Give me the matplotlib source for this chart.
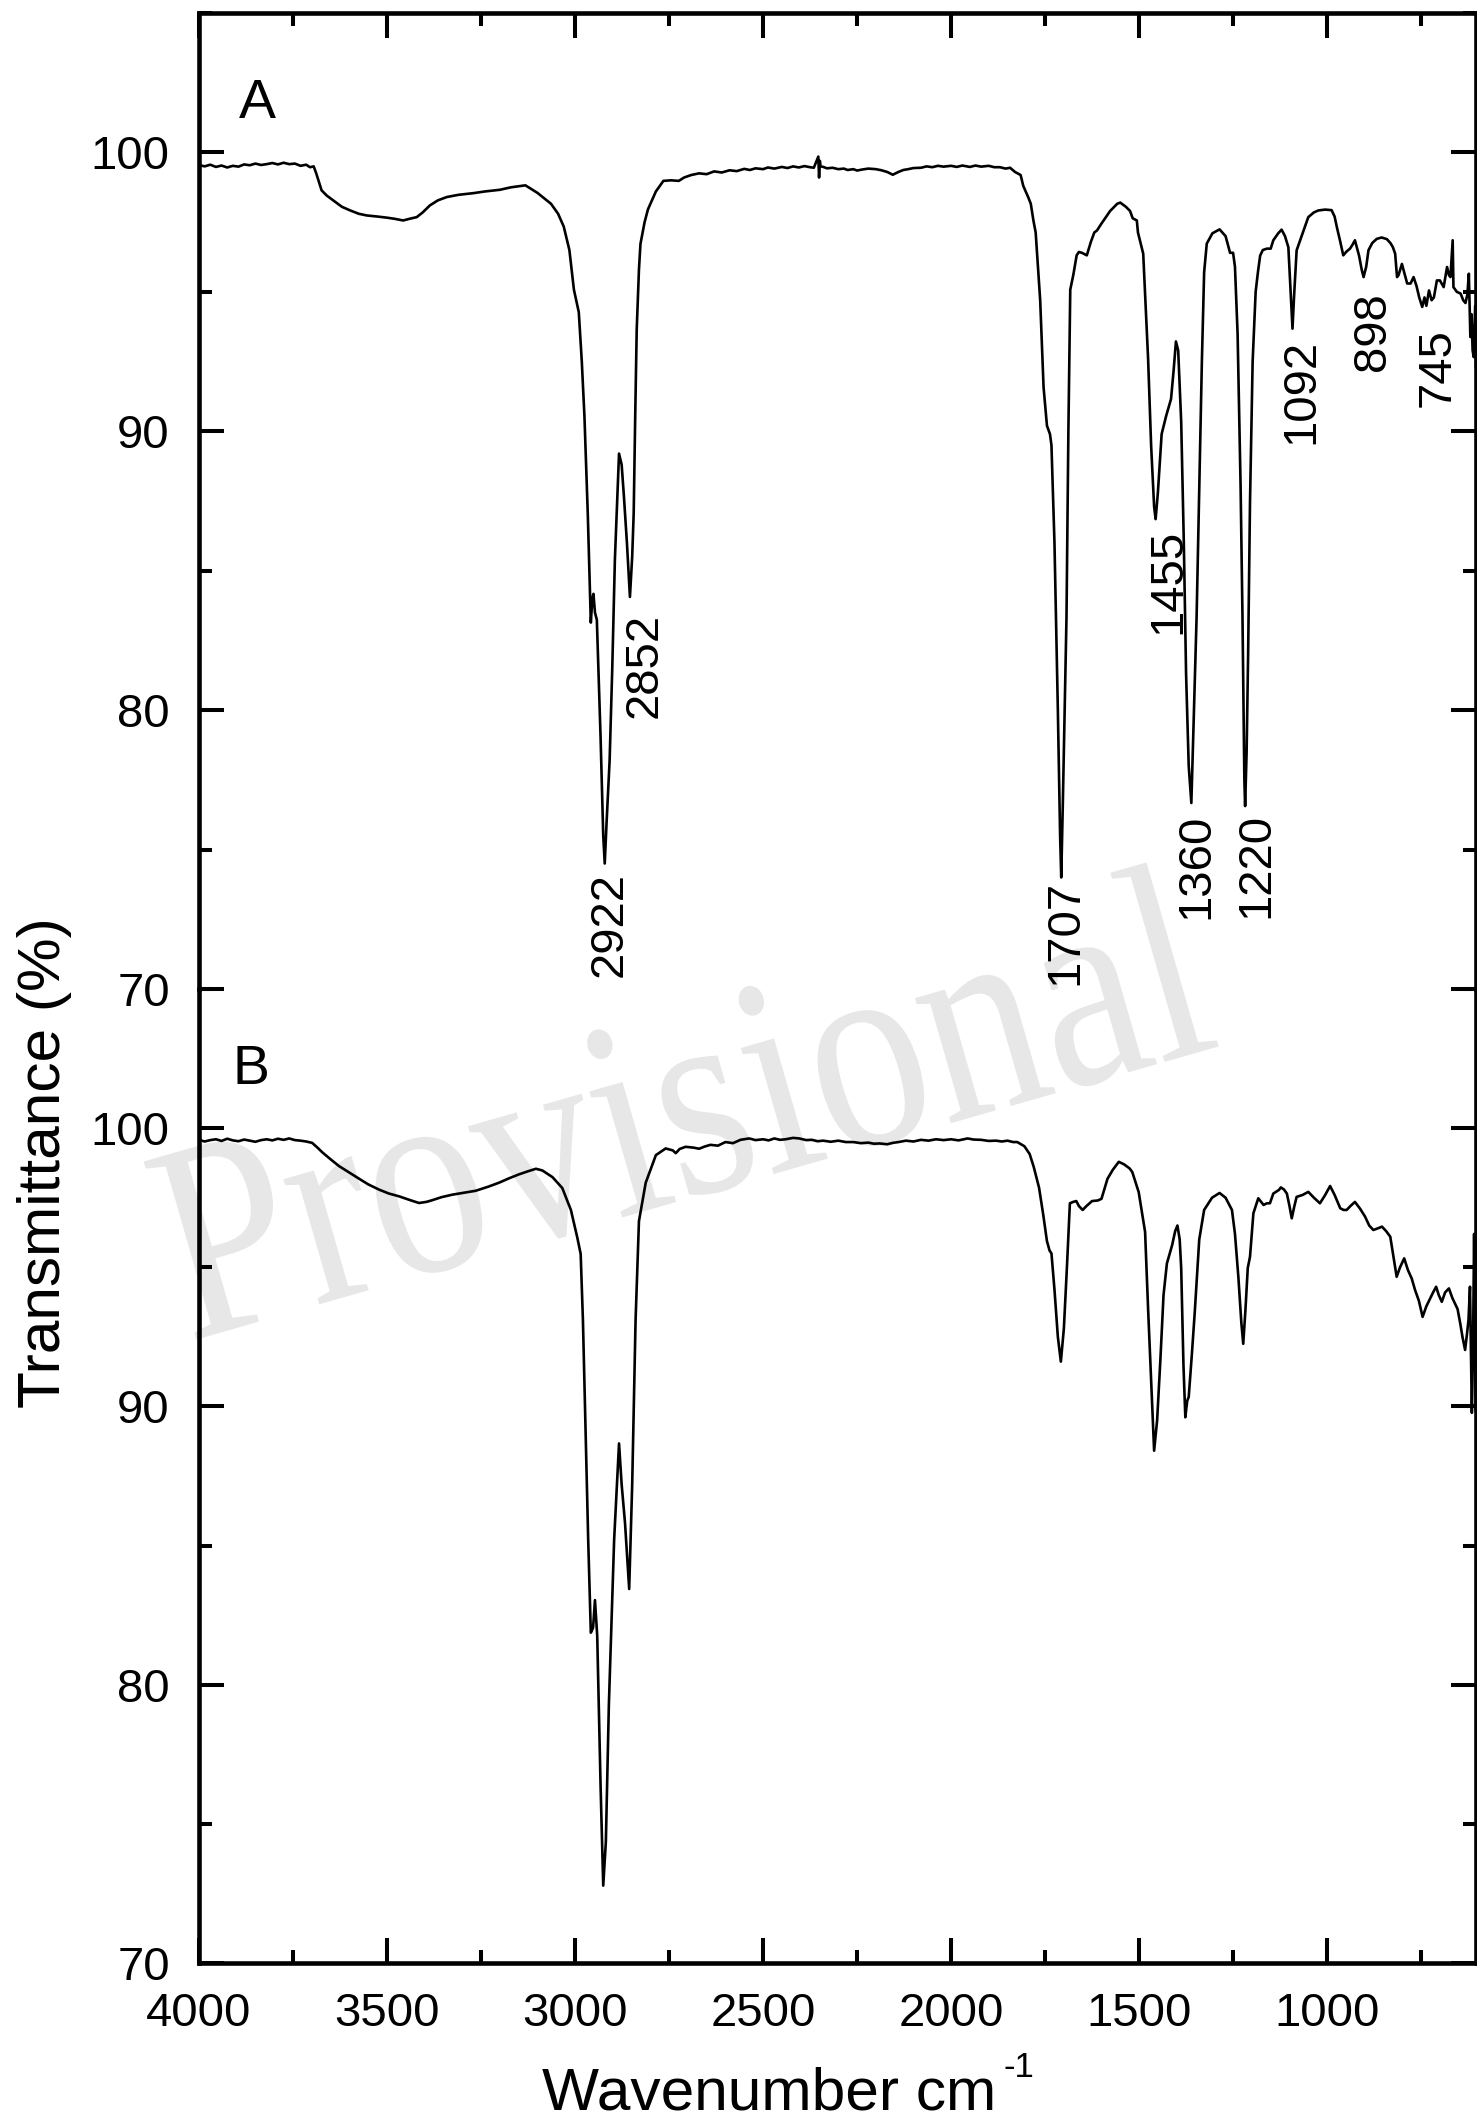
import matplotlib
matplotlib.use("Agg")
import matplotlib.pyplot as plt
from matplotlib.ticker import MultipleLocator
from matplotlib.textpath import TextPath
from matplotlib.font_manager import FontProperties
from matplotlib.patches import PathPatch
from matplotlib.transforms import Affine2D

plt.rcParams['font.family'] = ['Liberation Sans', 'DejaVu Sans']

# ---------------- data ----------------
wn_A = [4000, 3985, 3970, 3955, 3940, 3925, 3910, 3895, 3880, 3865, 3850, 3835, 3820, 3805,
        3790, 3775, 3760, 3745, 3730, 3715, 3705, 3695,
        3688, 3680, 3674, 3660, 3643, 3620, 3598, 3575, 3554, 3525, 3500, 3480, 3457, 3440,
        3421, 3405, 3386, 3365, 3341, 3310, 3270, 3240, 3200, 3170, 3132, 3100, 3064, 3045,
        3030, 3015, 3003, 2990, 2982, 2975, 2966, 2958, 2954, 2951, 2947, 2942, 2932, 2925,
        2921, 2916, 2908, 2901, 2894, 2888, 2883, 2876, 2870, 2862, 2854, 2848, 2844, 2840,
        2836, 2830, 2826, 2815, 2806, 2785, 2765, 2745, 2724, 2710,
        2691, 2670, 2650, 2630, 2610, 2589, 2570, 2550, 2535, 2520, 2500, 2487, 2470, 2450,
        2435, 2420, 2405, 2390, 2375, 2365, 2353, 2351, 2349, 2347, 2340, 2330, 2315, 2300,
        2285, 2275, 2260, 2250, 2235, 2220, 2200, 2185, 2170, 2155, 2140, 2127, 2114, 2100,
        2080, 2065, 2050, 2035, 2020, 2000, 1985, 1970, 1950, 1935, 1920, 1900, 1885, 1870,
        1855, 1843,
        1830, 1815, 1808, 1795, 1788, 1781, 1775, 1763, 1754, 1745, 1737, 1733, 1725, 1716,
        1710, 1707, 1703, 1698, 1693, 1688, 1683, 1675, 1666, 1660, 1652, 1639, 1628, 1619,
        1612, 1600, 1577, 1558, 1550, 1535, 1524, 1517, 1506, 1503, 1489, 1476, 1468, 1460,
        1456, 1450, 1440, 1428, 1415, 1408, 1402, 1396, 1388, 1381, 1375, 1368, 1361, 1355,
        1347, 1340, 1333, 1327, 1320, 1305, 1286, 1270, 1258, 1250, 1245, 1238, 1230, 1225,
        1220, 1218, 1214, 1210, 1205, 1198, 1190, 1184, 1178, 1171, 1160, 1150, 1143, 1130,
        1121, 1112, 1103, 1097, 1092, 1088, 1081, 1065, 1050, 1035, 1023, 1005, 988, 980,
        974, 965, 957, 948, 939, 932, 926, 915, 908, 903, 896, 890, 880, 868, 855, 841, 831,
        825, 819, 814, 810, 801, 793, 787, 778, 770, 762, 755, 747, 741, 736, 729, 722, 716,
        708, 700, 690, 681, 676, 672, 666, 664, 655, 645, 638, 632, 627, 623, 619, 616, 613,
        610, 608, 606, 604]
T_A = [99.55, 99.50, 99.56, 99.48, 99.53, 99.46, 99.52, 99.49, 99.57, 99.54, 99.60, 99.55,
       99.58, 99.62, 99.57, 99.63, 99.58, 99.60, 99.52, 99.56, 99.47, 99.50,
       99.24, 98.90, 98.64, 98.45, 98.28, 98.05, 97.92, 97.80, 97.74, 97.70,
       97.66, 97.62, 97.56, 97.62, 97.68, 97.85, 98.10, 98.28, 98.40, 98.48, 98.54, 98.60,
       98.66, 98.75, 98.82, 98.55, 98.16, 97.80, 97.34, 96.50, 95.08, 94.27, 92.50, 90.55,
       87.00, 83.14, 84.00, 84.17, 83.50, 83.24, 79.00, 75.50, 74.50, 76.00, 78.20, 81.50,
       85.40, 87.50, 89.20, 88.80, 87.67, 86.00, 84.06, 85.50, 87.06, 90.50, 93.63, 95.80,
       96.72, 97.50, 97.96, 98.60, 98.98, 99.00, 98.98, 99.10,
       99.19, 99.25, 99.22, 99.32, 99.28, 99.36, 99.33, 99.41, 99.37, 99.43, 99.40, 99.46,
       99.42, 99.48, 99.44, 99.50, 99.46, 99.51, 99.47, 99.45, 99.85, 99.10, 99.70, 99.50,
       99.48, 99.43, 99.45, 99.40, 99.42, 99.37, 99.40, 99.35, 99.39, 99.42, 99.40, 99.36,
       99.30, 99.20, 99.30, 99.37, 99.40, 99.44, 99.45, 99.50, 99.47, 99.52, 99.49, 99.52,
       99.48, 99.53, 99.48, 99.53, 99.49, 99.52, 99.47, 99.47, 99.42, 99.45,
       99.30, 99.19, 98.80, 98.40, 98.16, 97.56, 97.13, 94.70,
       91.58, 90.20, 89.90, 89.50, 86.00, 80.00, 75.50, 74.00, 76.50, 80.00, 83.35, 90.00,
       95.08, 95.60, 96.31, 96.43, 96.40, 96.31, 96.80, 97.13, 97.20, 97.45, 97.90, 98.16,
       98.20, 98.05, 97.90, 97.64, 97.56, 97.13, 96.37, 92.60, 89.50, 87.30, 86.85, 87.80,
       89.90, 90.55, 91.16, 92.20, 93.22, 92.90, 90.34, 86.00, 81.30, 78.00, 76.67, 79.50,
       83.35, 88.00, 92.50, 95.70, 96.73, 97.10, 97.24, 97.00, 96.40, 96.40, 95.90, 93.50,
       88.00, 83.35, 77.50, 76.56, 78.50, 82.00, 87.46, 92.50, 95.00, 95.70, 96.30, 96.50,
       96.55, 96.55, 96.85, 97.10, 97.23, 97.00, 96.60, 95.00, 93.68, 94.80, 96.49, 97.10,
       97.68, 97.85, 97.92, 97.95, 97.93, 97.70, 97.32, 96.80, 96.31, 96.45, 96.55, 96.70,
       96.85, 96.30, 95.80, 95.53, 95.90, 96.49, 96.75, 96.90, 96.95, 96.89, 96.74, 96.60,
       96.37, 95.53, 95.60, 96.00, 95.60, 95.30, 95.30, 95.53, 95.20, 94.80, 94.46, 94.80,
       94.50, 95.05, 94.70, 94.80, 95.41, 95.41, 95.17, 95.89, 95.60, 95.53, 96.85, 95.17,
       95.00, 94.94, 94.70, 94.60, 94.90, 95.65, 93.38, 94.20, 92.90, 92.66, 93.80, 94.50,
       92.30]

wn_B = [4000, 3985, 3970, 3955, 3940, 3925, 3910, 3895, 3880, 3865, 3850, 3835, 3820, 3805,
        3790, 3775, 3760, 3745, 3730, 3715, 3699,
        3685, 3672, 3650, 3628, 3600, 3574, 3550, 3521, 3495, 3468, 3440, 3415, 3395, 3380,
        3355, 3326, 3295, 3264, 3230, 3202, 3175, 3149, 3125, 3104, 3087, 3060, 3034, 3011,
        2994, 2985, 2979, 2972, 2965, 2958, 2952, 2947, 2941, 2932, 2925, 2918, 2910, 2896,
        2883, 2876, 2867, 2856, 2848, 2839, 2830, 2812, 2785, 2759, 2740, 2732, 2722, 2706,
        2685, 2670, 2655, 2640, 2620, 2600, 2580, 2560, 2537, 2520, 2500, 2485, 2470, 2455,
        2440, 2420, 2404, 2385, 2370, 2355, 2340, 2320, 2300, 2280, 2260, 2240, 2220, 2205,
        2190, 2170, 2155, 2140, 2120, 2100, 2080, 2060, 2040, 2020, 2000, 1980, 1956, 1940,
        1920, 1900, 1880, 1865, 1850, 1835, 1824,
        1805, 1791, 1780,
        1766, 1755, 1745, 1738, 1733, 1725, 1716, 1708, 1700, 1692, 1684, 1675, 1667, 1660,
        1650, 1640, 1625, 1610, 1600, 1584, 1570, 1554, 1540, 1525, 1518, 1501, 1484, 1476,
        1468, 1460, 1452, 1443, 1435, 1426, 1412, 1404, 1398, 1392, 1388, 1382, 1377, 1372,
        1368, 1360, 1352, 1340, 1327, 1306, 1286, 1270, 1253, 1245, 1236, 1228, 1223, 1217,
        1211, 1205, 1196, 1183, 1169, 1160, 1152, 1143, 1128, 1123, 1115, 1107, 1100, 1094,
        1087, 1081, 1065, 1050, 1035, 1019, 1005, 992, 980, 965, 956, 948, 938, 926, 912,
        899, 888, 877, 865, 854, 843, 832, 825, 815, 806, 795, 785, 775, 766, 756, 746, 736,
        726, 718, 710, 703, 695, 686, 676, 667, 660, 653, 646, 640, 633, 628, 624, 620, 617,
        615, 612, 609, 607, 605]
T_B = [99.58, 99.52, 99.57, 99.60, 99.54, 99.62, 99.56, 99.53, 99.59, 99.55, 99.51, 99.57,
       99.60, 99.56, 99.62, 99.58, 99.63, 99.57, 99.55, 99.52, 99.47,
       99.30, 99.13, 98.88, 98.64, 98.40, 98.18, 97.98, 97.79, 97.65, 97.55,
       97.42, 97.31, 97.35, 97.41, 97.52, 97.61, 97.68, 97.75, 97.90, 98.04, 98.20, 98.34,
       98.45, 98.54, 98.48, 98.24, 97.85, 97.06, 96.07, 95.48, 93.10, 89.16, 85.21, 81.87,
       82.05, 83.04, 81.76, 76.33, 72.78, 74.36, 79.29, 85.21, 88.67, 87.19, 85.80, 83.44,
       87.19, 93.10, 96.66, 98.04, 99.03, 99.27, 99.20, 99.10, 99.25, 99.33,
       99.30, 99.26, 99.34, 99.40, 99.37, 99.50, 99.46, 99.58, 99.63, 99.57, 99.60, 99.56,
       99.63, 99.58, 99.60, 99.65, 99.63, 99.57, 99.58, 99.53, 99.55, 99.51, 99.55, 99.50,
       99.50, 99.46, 99.48, 99.44, 99.45, 99.42, 99.47, 99.50, 99.55, 99.52, 99.58, 99.55,
       99.60, 99.57, 99.60, 99.56, 99.63, 99.59, 99.58, 99.54, 99.55, 99.52, 99.55, 99.50,
       99.50,
       99.35, 99.07, 98.60, 97.86, 96.90, 95.94, 95.60, 95.50, 94.20, 92.50, 91.61, 92.80,
       94.97, 97.30, 97.35, 97.38, 97.20, 97.06, 97.20, 97.38, 97.40, 97.46, 98.18, 98.50,
       98.79, 98.70, 98.55, 98.42, 97.70, 96.27, 93.50, 90.97, 88.41, 89.50, 91.77, 94.00,
       95.14, 95.80, 96.30, 96.50, 96.00, 94.97, 91.50, 89.61, 90.20, 90.34, 91.80, 93.37,
       96.00, 97.06, 97.50, 97.67, 97.50, 97.06, 96.20, 94.66, 93.00, 92.25, 93.50, 94.97,
       95.38, 96.94, 97.48, 97.24, 97.30, 97.30, 97.65, 97.78, 97.87, 97.80, 97.65, 97.20,
       96.76, 97.20, 97.53, 97.60, 97.71, 97.50, 97.30, 97.60, 97.92, 97.60, 97.12, 97.06,
       97.06, 97.20, 97.35, 97.10, 96.82, 96.50, 96.34, 96.40, 96.46, 96.30, 96.10, 95.50,
       94.66, 95.00, 95.32, 94.90, 94.60, 94.18, 93.80, 93.22, 93.60, 93.88, 94.10, 94.30,
       94.00, 93.76, 94.10, 94.24, 93.90, 93.70, 93.50, 92.99, 92.50, 92.03, 92.60, 93.10,
       94.30, 91.50, 89.77, 92.00, 96.20, 93.00, 89.87]

peak_labels = ['2922', '2852', '1707', '1455', '1360', '1220', '1092', '898', '745']
peak_label_wn = [2909, 2814, 1695, 1422, 1347, 1188, 1069, 879, 706]
peak_label_T = [74.2, 83.5, 73.9, 86.5, 76.3, 76.3, 93.3, 95.0, 93.7]

x_ticks = [4000, 3500, 3000, 2500, 2000, 1500, 1000]
y_ticks = [70, 80, 90, 100]

# ---------------- figure ----------------
W, H = 1477, 2119
fig = plt.figure(figsize=(W / 100, H / 100), dpi=100)

left = 199 / W
width = (1476 - 199) / W
axA = fig.add_axes([left, 1 - 989 / H, width, (989 - 13) / H])
axB = fig.add_axes([left, 1 - 1963 / H, width, (1963 - 989) / H])

# watermark (behind everything), slightly tall letters as in the reference
fp = FontProperties(family='Liberation Serif')
tp = TextPath((0, 0), 'Provisional', size=1, prop=fp)
ext = tp.get_extents()
sx = 1065 / ext.width
sy = 1.2 * sx
wm_tr = (Affine2D().translate(-(ext.x0 + ext.x1) / 2, -(ext.y0 + ext.y1) / 2)
         .scale(sx, sy).rotate_deg(16).translate(680, H - 1100))
wm = PathPatch(tp, transform=wm_tr, facecolor='#e7e7e7', edgecolor='none', zorder=-5)
fig.add_artist(wm)

for ax in (axA, axB):
    ax.set_facecolor('none')
    ax.set_xlim(4000, 604)
    ax.set_ylim(70, 105)
    ax.xaxis.set_major_locator(MultipleLocator(500))
    ax.xaxis.set_minor_locator(MultipleLocator(250))
    ax.set_yticks(y_ticks)
    ax.set_yticklabels([str(v) for v in y_ticks])
    ax.yaxis.set_minor_locator(MultipleLocator(5))
    for s in ax.spines.values():
        s.set_linewidth(3.3)
    ax.tick_params(which='both', direction='in', width=2.9, labelsize=34, pad=21)
    ax.tick_params(which='major', length=18)
    ax.tick_params(which='minor', length=9.5)
    ax.tick_params(axis='y', which='both', left=True, right=True,
                   labelleft=True, labelright=False)

axA.spines['bottom'].set_visible(False)
axB.spines['top'].set_visible(False)
axA.tick_params(axis='x', which='both', bottom=False, top=True,
                labelbottom=False, labeltop=False)
axB.tick_params(axis='x', which='both', bottom=True, top=False,
                labelbottom=True, labeltop=False)
axB.set_xticks(x_ticks)
axB.set_xticklabels([str(v) for v in x_ticks])
axB.set_xlim(4000, 604)

axA.plot(wn_A, T_A, color='black', lw=1.9)
axB.plot(wn_B, T_B, color='black', lw=1.9)

for lab, x, y in zip(peak_labels, peak_label_wn, peak_label_T):
    axA.text(x, y, lab, rotation=90, ha='center', va='top', fontsize=34)

circ = dict(boxstyle='circle,pad=0.25', fc='white', ec='none')
axA.text(3846, 101.25, 'A', ha='center', va='baseline', fontsize=40, bbox=circ)
axB.text(3862, 101.6, 'B', ha='center', va='baseline', fontsize=40, bbox=circ)

# axis titles
fig.text(542 / W, 1 - 2110 / H, 'Wavenumber cm', ha='left', va='baseline', fontsize=43.5)
fig.text(1004 / W, 1 - 2077 / H, '-1', ha='left', va='baseline', fontsize=25)
fig.text(44.5 / W, 1 - 1163 / H, 'Transmittance (%)', rotation=90,
         ha='center', va='center', fontsize=43.5)

fig.savefig('out.png', dpi=100)
